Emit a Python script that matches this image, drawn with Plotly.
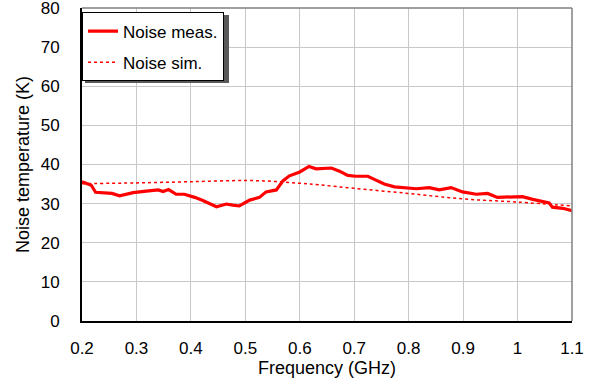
import plotly.graph_objects as go

meas_f = [0.200, 0.217, 0.225, 0.245, 0.255, 0.269, 0.294, 0.318, 0.340, 0.349, 0.359, 0.373,
          0.388, 0.407, 0.422, 0.447, 0.465, 0.477, 0.489, 0.508, 0.526, 0.538, 0.557, 0.569,
          0.581, 0.600, 0.617, 0.630, 0.640, 0.651, 0.658, 0.673, 0.688, 0.703, 0.725, 0.737,
          0.755, 0.774, 0.795, 0.814, 0.838, 0.856, 0.878, 0.899, 0.924, 0.945, 0.963, 0.985,
          1.009, 1.028, 1.046, 1.058, 1.064, 1.083, 1.100]
meas_t = [35.6, 34.7, 32.9, 32.6, 32.6, 32.0, 32.8, 33.2, 33.5, 33.1, 33.6, 32.4,
          32.4, 31.6, 30.8, 29.2, 29.9, 29.6, 29.4, 30.9, 31.6, 33.0, 33.5, 35.8,
          37.1, 38.1, 39.5, 38.9, 39.0, 39.2, 39.1, 38.3, 37.2, 37.0, 37.0, 36.2,
          35.0, 34.3, 34.1, 33.8, 34.1, 33.5, 34.1, 33.0, 32.4, 32.6, 31.6, 31.6,
          31.8, 31.1, 30.5, 30.2, 29.1, 28.8, 28.2]

sim_f = [0.2, 0.3, 0.4, 0.5, 0.55, 0.6, 0.636, 0.7, 0.8, 0.9, 1.0, 1.1]
sim_t = [35.1, 35.3, 35.6, 35.9, 35.7, 35.2, 34.8, 33.9, 32.6, 31.2, 30.4, 29.4]

x_ticks = [0.2, 0.3, 0.4, 0.5, 0.6, 0.7, 0.8, 0.9, 1.0, 1.1]
x_labels = ["0.2", "0.3", "0.4", "0.5", "0.6", "0.7", "0.8", "0.9", "1", "1.1"]
y_ticks = [0, 10, 20, 30, 40, 50, 60, 70, 80]

FAM = "Liberation Sans, Arial, sans-serif"
tick_font = dict(family=FAM, size=17, color="black")
title_font = dict(family=FAM, size=18, color="black")

PW, PH = 490.0, 313.5  # plot area size in px

fig = go.Figure()
fig.add_trace(go.Scatter(x=meas_f, y=meas_t, mode="lines", name="Noise meas.",
                         legendgroup="a",
                         line=dict(color="#ff0000", width=3.2)))
fig.add_trace(go.Scatter(x=sim_f, y=sim_t, mode="lines", name="Noise sim.",
                         legendgroup="b",
                         line=dict(color="#ff0000", width=1.5, dash="dot", shape="spline")))

# legend shadow
fig.add_shape(type="rect", xref="paper", yref="paper",
              x0=3/PW, x1=147/PW, y0=1 - 75/PH, y1=1 - 7/PH,
              fillcolor="#595959", line=dict(width=0), layer="above")
# plot-area border (top and right)
fig.add_shape(type="line", xref="paper", yref="paper", x0=0, x1=1, y0=1, y1=1,
              line=dict(color="#808080", width=1.5), layer="above")
fig.add_shape(type="line", xref="paper", yref="paper", x0=1, x1=1, y0=0, y1=1,
              line=dict(color="#808080", width=1.5), layer="above")

fig.update_layout(
    width=592, height=386,
    margin=dict(l=82, r=20, t=8, b=64.5),
    paper_bgcolor="white", plot_bgcolor="white",
    font=dict(family=FAM, size=17, color="black"),
    showlegend=True,
    legend=dict(x=0, y=1 - 4.5/PH, xanchor="left", yanchor="top",
                bgcolor="white", bordercolor="black", borderwidth=1,
                font=dict(family=FAM, size=17, color="black"),
                tracegroupgap=6, itemwidth=30),
    xaxis=dict(range=[0.2, 1.1], tickvals=x_ticks, ticktext=x_labels,
               showgrid=True, gridcolor="#c8c8c8", gridwidth=1,
               showline=True, linecolor="black", linewidth=1.8,
               ticks="", zeroline=False, ticklabelstandoff=11,
               automargin=False, tickfont=tick_font,
               title=dict(text="Frequency (GHz)", standoff=4, font=title_font)),
    yaxis=dict(range=[0, 80], tickvals=y_ticks,
               showgrid=True, gridcolor="#c8c8c8", gridwidth=1,
               showline=True, linecolor="black", linewidth=1.8,
               ticks="", zeroline=False, ticklabelstandoff=17,
               automargin=False, ticklabeloverflow="allow", tickfont=tick_font,
               title=dict(text="Noise temperature (K)", standoff=6, font=title_font)),
)

fig.write_html("out.html")
